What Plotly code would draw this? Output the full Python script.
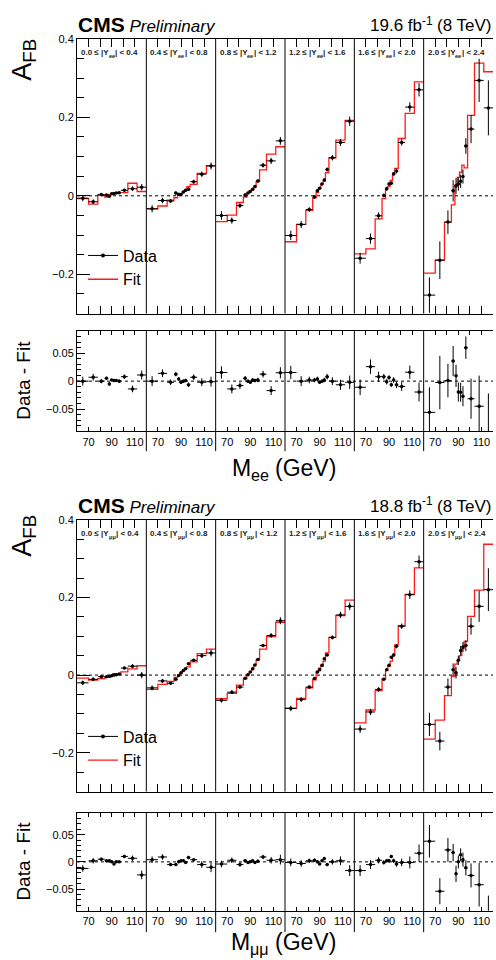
import plotly.graph_objects as go

W, H = 496, 960

# ---------------- data ----------------
mass_edges = [60, 70, 78, 84, 87, 89, 91, 93, 95, 98, 104, 112, 120]
rap_edges = ["0.0", "0.4", "0.8", "1.2", "1.6", "2.0", "2.4"]
mass_label_start, mass_label_step, mass_minor_step = 70, 20, 10

ee_afb = [
    [-0.006, -0.015, 0.003, 0.002, -0.001, 0.005, 0.006, 0.007, 0.008, 0.014, 0.018, 0.022],
    [-0.033, -0.012, -0.013, 0.007, 0.004, 0.003, 0.010, 0.014, 0.017, 0.036, 0.055, 0.076],
    [-0.050, -0.063, -0.025, 0.002, 0.007, 0.011, 0.017, 0.024, 0.038, 0.078, 0.089, 0.140],
    [-0.101, -0.073, -0.035, -0.003, 0.013, 0.019, 0.030, 0.040, 0.067, 0.097, 0.136, 0.190],
    [-0.159, -0.109, -0.051, 0.001, 0.018, 0.030, 0.032, 0.056, 0.063, 0.136, 0.226, 0.270],
    [-0.253, -0.164, -0.067, 0.013, 0.025, 0.030, 0.037, 0.049, 0.127, 0.170, 0.294, 0.224],
]
ee_err = [
    [0.008, 0.006, 0.004, 0.003, 0.003, 0.002, 0.002, 0.002, 0.003, 0.004, 0.006, 0.008],
    [0.009, 0.007, 0.005, 0.004, 0.003, 0.003, 0.003, 0.003, 0.004, 0.005, 0.007, 0.009],
    [0.011, 0.008, 0.006, 0.004, 0.003, 0.003, 0.003, 0.003, 0.004, 0.006, 0.008, 0.010],
    [0.012, 0.009, 0.006, 0.004, 0.004, 0.003, 0.003, 0.004, 0.005, 0.007, 0.009, 0.012],
    [0.014, 0.013, 0.009, 0.005, 0.005, 0.004, 0.004, 0.005, 0.006, 0.008, 0.012, 0.017],
    [0.045, 0.048, 0.030, 0.027, 0.020, 0.017, 0.017, 0.018, 0.020, 0.036, 0.055, 0.070],
]
ee_fit = [
    [-0.007, -0.021, 0.002, -0.003, 0.003, 0.004, 0.005, 0.006, 0.008, 0.008, 0.032, 0.011],
    [-0.033, -0.026, -0.011, -0.005, 0.001, 0.005, 0.009, 0.013, 0.023, 0.029, 0.057, 0.077],
    [-0.066, -0.049, -0.017, -0.003, 0.007, 0.013, 0.015, 0.022, 0.036, 0.066, 0.106, 0.125],
    [-0.117, -0.073, -0.037, -0.005, 0.009, 0.021, 0.030, 0.038, 0.059, 0.097, 0.142, 0.192],
    [-0.148, -0.135, -0.059, -0.007, 0.019, 0.024, 0.039, 0.054, 0.070, 0.146, 0.210, 0.290],
    [-0.197, -0.164, -0.067, -0.023, 0.028, 0.047, 0.060, 0.078, 0.071, 0.205, 0.338, 0.316],
]
ee_diff = [
    [0.000, 0.007, 0.000, 0.005, -0.005, 0.002, 0.001, 0.001, 0.000, 0.008, -0.014, 0.011],
    [0.000, 0.014, -0.002, 0.0125, 0.004, -0.002, 0.000, 0.001, -0.0065, 0.007, -0.002, -0.001],
    [0.0155, -0.014, -0.008, 0.005, 0.000, -0.002, 0.002, 0.001, 0.002, 0.0125, -0.017, 0.015],
    [0.0155, 0.000, 0.002, 0.002, 0.004, -0.002, 0.000, 0.002, 0.008, 0.000, -0.0065, -0.002],
    [-0.011, 0.026, 0.008, 0.008, -0.001, 0.0065, -0.0065, 0.002, -0.0065, -0.0095, 0.016, -0.0195],
    [-0.056, -0.0025, 0.001, 0.036, 0.0095, -0.0195, -0.020, -0.027, 0.060, -0.0315, -0.045, -0.092],
]

mm_afb = [
    [-0.020, -0.011, -0.004, -0.004, -0.003, -0.002, 0.000, 0.001, 0.003, 0.018, 0.023, 0.000],
    [-0.033, -0.015, -0.021, -0.011, -0.001, 0.006, 0.012, 0.016, 0.029, 0.038, 0.050, 0.057],
    [-0.065, -0.044, -0.031, -0.008, 0.001, 0.008, 0.016, 0.026, 0.040, 0.076, 0.102, 0.140],
    [-0.086, -0.063, -0.031, -0.009, 0.008, 0.014, 0.025, 0.042, 0.052, 0.097, 0.155, 0.177],
    [-0.139, -0.095, -0.037, -0.011, 0.014, 0.025, 0.046, 0.052, 0.074, 0.126, 0.207, 0.292],
    [-0.127, -0.170, -0.031, 0.014, 0.006, 0.038, 0.063, 0.072, 0.076, 0.126, 0.177, 0.220],
]
mm_err = [
    [0.006, 0.005, 0.003, 0.003, 0.002, 0.002, 0.002, 0.002, 0.002, 0.003, 0.005, 0.008],
    [0.006, 0.005, 0.003, 0.003, 0.002, 0.002, 0.002, 0.002, 0.003, 0.003, 0.006, 0.009],
    [0.006, 0.005, 0.004, 0.003, 0.002, 0.002, 0.002, 0.002, 0.003, 0.004, 0.006, 0.009],
    [0.007, 0.006, 0.004, 0.003, 0.003, 0.002, 0.002, 0.003, 0.003, 0.005, 0.008, 0.010],
    [0.010, 0.008, 0.006, 0.004, 0.003, 0.003, 0.003, 0.004, 0.005, 0.007, 0.011, 0.016],
    [0.030, 0.024, 0.022, 0.016, 0.015, 0.012, 0.012, 0.013, 0.014, 0.022, 0.040, 0.055],
]
mm_fit = [
    [-0.008, -0.013, -0.009, -0.006, -0.005, -0.002, 0.004, 0.001, 0.003, 0.008, 0.016, 0.024],
    [-0.037, -0.024, -0.016, -0.006, -0.001, 0.004, 0.010, 0.017, 0.021, 0.034, 0.055, 0.067],
    [-0.061, -0.047, -0.026, -0.010, 0.002, 0.008, 0.014, 0.027, 0.039, 0.067, 0.099, 0.136],
    [-0.085, -0.060, -0.033, -0.012, 0.008, 0.018, 0.023, 0.036, 0.057, 0.097, 0.153, 0.193],
    [-0.123, -0.090, -0.040, -0.010, 0.012, 0.023, 0.036, 0.050, 0.078, 0.127, 0.208, 0.276],
    [-0.165, -0.116, -0.053, -0.003, 0.028, 0.038, 0.050, 0.068, 0.087, 0.151, 0.219, 0.337],
]
mm_diff = [
    [-0.012, 0.002, 0.005, 0.002, 0.002, 0.000, -0.004, 0.000, 0.000, 0.010, 0.0066, -0.024],
    [0.004, 0.009, -0.005, -0.005, 0.000, 0.002, 0.002, -0.001, 0.008, 0.004, -0.005, -0.010],
    [-0.004, 0.003, -0.005, 0.002, -0.001, 0.000, 0.002, -0.001, 0.001, 0.009, 0.003, 0.004],
    [-0.001, -0.003, 0.002, 0.003, 0.000, -0.004, 0.002, 0.006, -0.005, 0.000, 0.002, -0.016],
    [-0.016, -0.005, 0.003, -0.001, 0.002, 0.002, 0.010, 0.002, -0.004, -0.001, -0.001, 0.016],
    [0.038, -0.054, 0.022, 0.017, -0.022, 0.000, 0.013, 0.004, -0.011, -0.025, -0.042, -0.117],
]

channels = [
    dict(afb=ee_afb, err=ee_err, fit=ee_fit, diff=ee_diff, lep="ee",
         lumi="19.6", main=(33, 309.5), ratio=(327, 428), sep_ext=448,
         xtitle_y=465, ytitle_y=54, dtitle_y=377, leg_y=234),
    dict(afb=mm_afb, err=mm_err, fit=mm_fit, diff=mm_diff, lep="μμ",
         lumi="18.8", main=(517, 790.5), ratio=(812, 910.5), sep_ext=932,
         xtitle_y=942, ytitle_y=533, dtitle_y=861, leg_y=718),
]

# ---------------- geometry / text helpers ----------------
X0, X1 = 77, 493
PW = (X1 - X0) / 6
FONT = "Liberation Sans, Arial, sans-serif"

ADV = {" ": 278, "(": 333, ")": 333, "-": 333, ".": 278, "A": 667, "B": 667, "F": 611, "G": 778,
       "M": 833, "T": 611, "V": 667, "Y": 667, "b": 556, "e": 556, "f": 278, "|": 260, "<": 584,
       "≤": 549, "μ": 576}
ADV_B = {" ": 278, ".": 278, "|": 280, "Y": 667, "<": 584, "≤": 549, "e": 556, "μ": 611}


def tw(s, size, bold=False):
    table = ADV_B if bold else ADV
    return sum(table.get(ch, 556) for ch in s) * size / 1000


def fx(px):
    return px / W


def fy(py):
    return 1 - py / H


centers = [(a + b) / 2 for a, b in zip(mass_edges[:-1], mass_edges[1:])]
halfw = [(b - a) / 2 for a, b in zip(mass_edges[:-1], mass_edges[1:])]

fig = go.Figure()
layout = {}
shapes = []
annotations = []


def ann(text, x, y, size, xanchor="left", yanchor="middle", angle=0, bold=False, color="black"):
    annotations.append(dict(text=f"<b>{text}</b>" if bold else text, xref="paper", yref="paper",
                            x=fx(x), y=fy(y), xanchor=xanchor, yanchor=yanchor, textangle=angle,
                            showarrow=False, borderpad=0, borderwidth=0,
                            font=dict(family=FONT, size=size, color=color)))


def xname(k):
    return "x" if k == 1 else f"x{k}"


def xkey(k):
    return "xaxis" if k == 1 else f"xaxis{k}"


def yname(k):
    return "y" if k == 1 else f"y{k}"


def ykey(k):
    return "yaxis" if k == 1 else f"yaxis{k}"


for c, ch in enumerate(channels):
    for r in range(2):
        top, bot = ch["main"] if r == 0 else ch["ratio"]
        yi = c * 2 + r + 1
        yri = yi + 4
        first_x = xname(c * 12 + r * 6 + 1)
        last_x = xname(c * 12 + r * 6 + 6)
        if r == 0:
            yrange = [-0.3, 0.4]
            ytk = dict(tick0=0, dtick=0.2, ticklen=13,
                       minor=dict(dtick=0.05, tick0=0, ticklen=7, ticks="inside", tickcolor="black"))
        else:
            yrange = [-0.09, 0.09]
            ytk = dict(tick0=0, dtick=0.05, ticklen=8,
                       minor=dict(dtick=0.01, tick0=0, ticklen=4, ticks="inside", tickcolor="black"))
        common = dict(domain=[fy(bot), fy(top)], range=yrange, ticks="inside", tickcolor="black",
                      showline=True, linecolor="black", linewidth=1, zeroline=False, showgrid=False,
                      tickmode="linear", **ytk)
        layout[ykey(yi)] = dict(anchor=first_x, side="left",
                                tickfont=dict(family=FONT, size=11, color="black"), **common)
        layout[ykey(yri)] = dict(anchor=last_x, side="right", overlaying=yname(yi),
                                 showticklabels=False, **common)
        shapes.append(dict(type="line", xref="paper", yref=yname(yi), x0=fx(X0), x1=fx(X1), y0=0, y1=0,
                           line=dict(color="black", width=1, dash="dot")))
        for p in range(1, 6):
            xs = fx(X0 + p * PW)
            shapes.append(dict(type="line", xref="paper", yref="paper", x0=xs, x1=xs,
                               y0=fy(ch["sep_ext"] if r == 1 else bot), y1=fy(top),
                               line=dict(color="black", width=1)))
        xtl = 8 if r == 0 else 4
        for p in range(6):
            k = c * 12 + r * 6 + p + 1
            layout[xkey(k)] = dict(domain=[fx(X0 + p * PW), fx(X0 + (p + 1) * PW)], range=[60, 120],
                                   anchor=yname(yi), tickmode="linear", tick0=mass_label_start,
                                   dtick=mass_label_step, ticks="inside", ticklen=xtl,
                                   minor=dict(tick0=mass_label_start, dtick=mass_minor_step,
                                              ticks="inside", ticklen=xtl, tickcolor="black"),
                                   tickcolor="black", showline=True, mirror="ticks", linecolor="black",
                                   linewidth=1, showgrid=False, zeroline=False,
                                   showticklabels=(r == 1),
                                   tickfont=dict(family=FONT, size=11, color="black"))
            if r == 0:
                fit = ch["fit"][p]
                fig.add_trace(go.Scatter(x=mass_edges, y=fit + [fit[-1]], mode="lines", line_shape="hv",
                                         line=dict(color="#ff1a1a", width=1.3), xaxis=xname(k),
                                         yaxis=yname(yi), showlegend=False, hoverinfo="skip"))
                yv = ch["afb"][p]
            else:
                yv = ch["diff"][p]
            fig.add_trace(go.Scatter(x=centers, y=yv, mode="markers",
                                     marker=dict(color="black", size=3.5),
                                     error_y=dict(type="data", array=ch["err"][p], color="black",
                                                  thickness=1, width=0),
                                     error_x=dict(type="data", array=halfw, color="black",
                                                  thickness=1, width=0),
                                     xaxis=xname(k), yaxis=yname(yi), showlegend=False))
            if r == 0:
                # rapidity-bin label with subscript, built from pieces
                s_main, s_sub = 8, 5.6
                xl = X0 + p * PW + 4
                yc = top + 14
                t1 = f"{rap_edges[p]} ≤ |Y"
                ann(t1, xl, yc, s_main, bold=True, color="#222222")
                xl2 = xl + tw(t1, s_main, True)
                ann(ch["lep"], xl2, yc + 3, s_sub, bold=True, color="#222222")
                xl3 = xl2 + tw(ch["lep"], s_sub, True) + 0.5
                ann(f"| &lt; {rap_edges[p + 1]}", xl3, yc, s_main, bold=True, color="#222222")

    # legend (dummy entries)
    leg = "legend" if c == 0 else "legend2"
    fig.add_trace(go.Scatter(x=[None], y=[None], mode="lines+markers", name="Data",
                             line=dict(color="black", width=1), marker=dict(color="black", size=4),
                             xaxis=xname(c * 12 + 1), yaxis=yname(c * 2 + 1), legend=leg))
    fig.add_trace(go.Scatter(x=[None], y=[None], mode="lines", name="Fit",
                             line=dict(color="#ff1a1a", width=1.3),
                             xaxis=xname(c * 12 + 1), yaxis=yname(c * 2 + 1), legend=leg))
    layout[leg] = dict(x=fx(83), y=fy(ch["leg_y"]), xanchor="left", yanchor="top",
                       bgcolor="rgba(0,0,0,0)", font=dict(family=FONT, size=16, color="black"),
                       itemwidth=30, tracegroupgap=0)

    top = ch["main"][0]
    annotations.append(dict(text="<b><span style='font-size:21px'>CMS</span></b> <i>Preliminary</i>",
                            xref="paper", yref="paper", x=fx(76), y=fy(top - 1), xanchor="left",
                            yanchor="bottom", showarrow=False,
                            font=dict(family=FONT, size=17, color="black")))

    # luminosity label: "19.6 fb" + superscript "-1" + "(8 TeV)"
    s, ss = 17, 11.9
    p1, p2, p3 = f"{ch['lumi']} fb", "-1", "(8 TeV)"
    total = tw(p1, s) + tw(p2, ss) + tw(" " + p3, s)
    xl = 494 - total
    yc = top - 13
    ann(p1, xl, yc, s)
    ann(p2, xl + tw(p1, s), yc - 5.4, ss)
    ann(p3, xl + tw(p1, s) + tw(p2, ss) + tw(" ", s), yc, s)

    # x title: "M" + subscript + "(GeV)"
    s, ss = 23, 16.1
    total = tw("M", s) + tw(ch["lep"], ss) + tw(" (GeV)", s)
    xl = 284 - total / 2
    yc = ch["xtitle_y"]
    ann("M", xl, yc, s)
    ann(ch["lep"], xl + tw("M", s), yc + 7, ss)
    ann("(GeV)", xl + tw("M", s) + tw(ch["lep"], ss) + tw(" ", s), yc, s)

    # y title: "A" + subscript "FB", rotated
    s, ss = 27, 18.9
    ystart = ch["ytitle_y"] + (tw("A", s) + tw("FB", ss)) / 2
    ann("A", 22, ystart - tw("A", s) / 2, s, xanchor="center", angle=-90)
    ann("FB", 30, ystart - tw("A", s) - tw("FB", ss) / 2, ss, xanchor="center", angle=-90)

    ann("Data - Fit", 24, ch["dtitle_y"], 19, xanchor="center", angle=-90)

fig.update_layout(width=W, height=H, margin=dict(l=0, r=0, t=0, b=0), paper_bgcolor="white",
                  plot_bgcolor="white", shapes=shapes, annotations=annotations, **layout)
fig.write_html("out.html")
